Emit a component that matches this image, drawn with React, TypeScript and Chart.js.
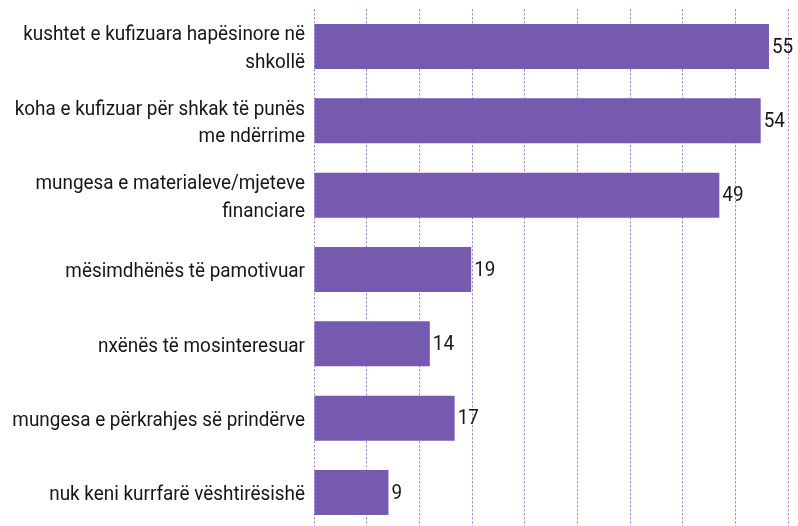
import React, { useEffect, useRef } from "react";
import { Chart, registerables } from "chart.js";

Chart.register(...registerables);

const categories: string[][] = [
  ["kushtet e kufizuara hapësinore në", "shkollë"],
  ["koha e kufizuar për shkak të punës", "me ndërrime"],
  ["mungesa e materialeve/mjeteve", "financiare"],
  ["mësimdhënës të pamotivuar"],
  ["nxënës të mosinteresuar"],
  ["mungesa e përkrahjes së prindërve"],
  ["nuk keni kurrfarë vështirësishë"],
];

const values: number[] = [55, 54, 49, 19, 14, 17, 9];

const AXIS_MAX = 57.3;
const GRID_LINES = 10;

const FONT = "Roboto, 'Liberation Sans', sans-serif";
const SQUEEZE = 0.9;
const LINE_HEIGHT = 27.5;

const textPlugin = {
  id: "condensedText",
  afterDatasetsDraw(chart: any) {
    const ctx = chart.ctx;
    const meta = chart.getDatasetMeta(0);
    const yScale = chart.scales.y;
    ctx.save();
    ctx.fillStyle = "#161616";
    ctx.textBaseline = "middle";

    // value labels
    ctx.font = `21px ${FONT}`;
    ctx.textAlign = "left";
    meta.data.forEach((el: any, i: number) => {
      ctx.save();
      ctx.translate(el.x + 3, el.y + 1);
      ctx.scale(SQUEEZE, 1);
      ctx.fillText(String(values[i]), 0, 0);
      ctx.restore();
    });

    // category labels
    ctx.font = `21px ${FONT}`;
    ctx.textAlign = "right";
    const right = yScale.right - 9;
    categories.forEach((lines, i) => {
      const cy = yScale.getPixelForValue(i) + 2.5;
      const n = lines.length;
      lines.forEach((line, j) => {
        const ly = cy + (j - (n - 1) / 2) * LINE_HEIGHT;
        ctx.save();
        ctx.translate(right, ly);
        ctx.scale(SQUEEZE, 1);
        ctx.fillText(line, 0, 0);
        ctx.restore();
      });
    });
    ctx.restore();
  },
};

export default function App() {
  const ref = useRef<HTMLCanvasElement | null>(null);

  useEffect(() => {
    if (!ref.current) return;
    const chart = new Chart(ref.current, {
      type: "bar",
      data: {
        labels: categories,
        datasets: [
          {
            data: values,
            backgroundColor: "#765aaf",
            borderWidth: 0,
            categoryPercentage: 1,
            barPercentage: 0.605,
          },
        ],
      },
      options: {
        indexAxis: "y",
        animation: false,
        responsive: false,
        maintainAspectRatio: false,
        layout: { padding: { top: 9.3, bottom: 10.3, left: 0, right: 10 } },
        plugins: {
          legend: { display: false },
          tooltip: { enabled: false },
        },
        scales: {
          x: {
            min: 0,
            max: AXIS_MAX,
            afterBuildTicks: (scale: any) => {
              scale.ticks = Array.from({ length: GRID_LINES }, (_, i) => ({
                value: (i * AXIS_MAX) / (GRID_LINES - 1),
              }));
            },
            afterFit: (scale: any) => {
              scale.height = 0;
              scale.paddingLeft = 0;
              scale.paddingRight = 0;
            },
            ticks: { display: false },
            grid: { color: "rgba(118, 96, 200, 0.8)", lineWidth: 1, drawTicks: false },
            border: { display: false, dash: [2, 2] },
          },
          y: {
            afterFit: (scale: any) => {
              scale.width = 314;
              scale.paddingTop = 0;
              scale.paddingBottom = 0;
            },
            grid: { display: false },
            border: { display: false },
            ticks: { display: false },
          },
        },
      },
      plugins: [textPlugin],
    });
    return () => chart.destroy();
  }, []);

  return (
    <div
      style={{
        position: "fixed",
        top: 0,
        left: 0,
        width: 798,
        height: 526,
        overflow: "hidden",
        background: "#ffffff",
      }}
    >
      <canvas ref={ref} width={798} height={540} style={{ display: "block" }} />
    </div>
  );
}
